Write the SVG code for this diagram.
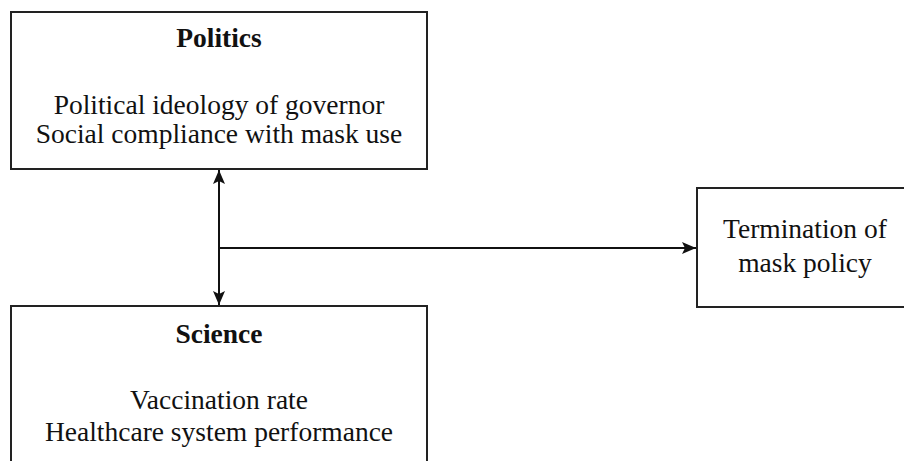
<svg xmlns="http://www.w3.org/2000/svg" width="904" height="461" viewBox="0 0 904 461">
<style>
.box{fill:#fff;stroke:#222;stroke-width:2}
.t{font-family:"Liberation Serif","Times New Roman",serif;font-size:27.5px;fill:#111;text-anchor:middle}
.b{font-weight:bold}
.c{stroke:#111;stroke-width:2;fill:none}
</style>
<defs>
<marker id="ah" viewBox="0 0 14 12" refX="14" refY="6" markerWidth="14" markerHeight="12" markerUnits="userSpaceOnUse" orient="auto-start-reverse">
<path d="M0,0 L14,6 L0,12 L3,6 Z" fill="#111"/>
</marker>
</defs>
<rect width="904" height="461" fill="#fff"/>
<g id="politics">
<rect class="box" x="11" y="12" width="416" height="157"/>
<text class="t b" x="219" y="47">Politics</text>
<text class="t" x="219" y="114">Political ideology of governor</text>
<text class="t" x="219" y="143">Social compliance with mask use</text>
</g>
<g id="science">
<rect class="box" x="11" y="306" width="416" height="170"/>
<text class="t b" x="219" y="343">Science</text>
<text class="t" x="219" y="409">Vaccination rate</text>
<text class="t" x="219" y="441">Healthcare system performance</text>
</g>
<g id="termination">
<rect class="box" x="697" y="188" width="220" height="119"/>
<text class="t" x="805" y="238">Termination of</text>
<text class="t" x="805" y="272">mask policy</text>
</g>
<g id="connectors">
<line class="c" x1="219" y1="170" x2="219" y2="305" marker-start="url(#ah)" marker-end="url(#ah)"/>
<line class="c" x1="219" y1="248" x2="696" y2="248" marker-end="url(#ah)"/>
</g>
</svg>
